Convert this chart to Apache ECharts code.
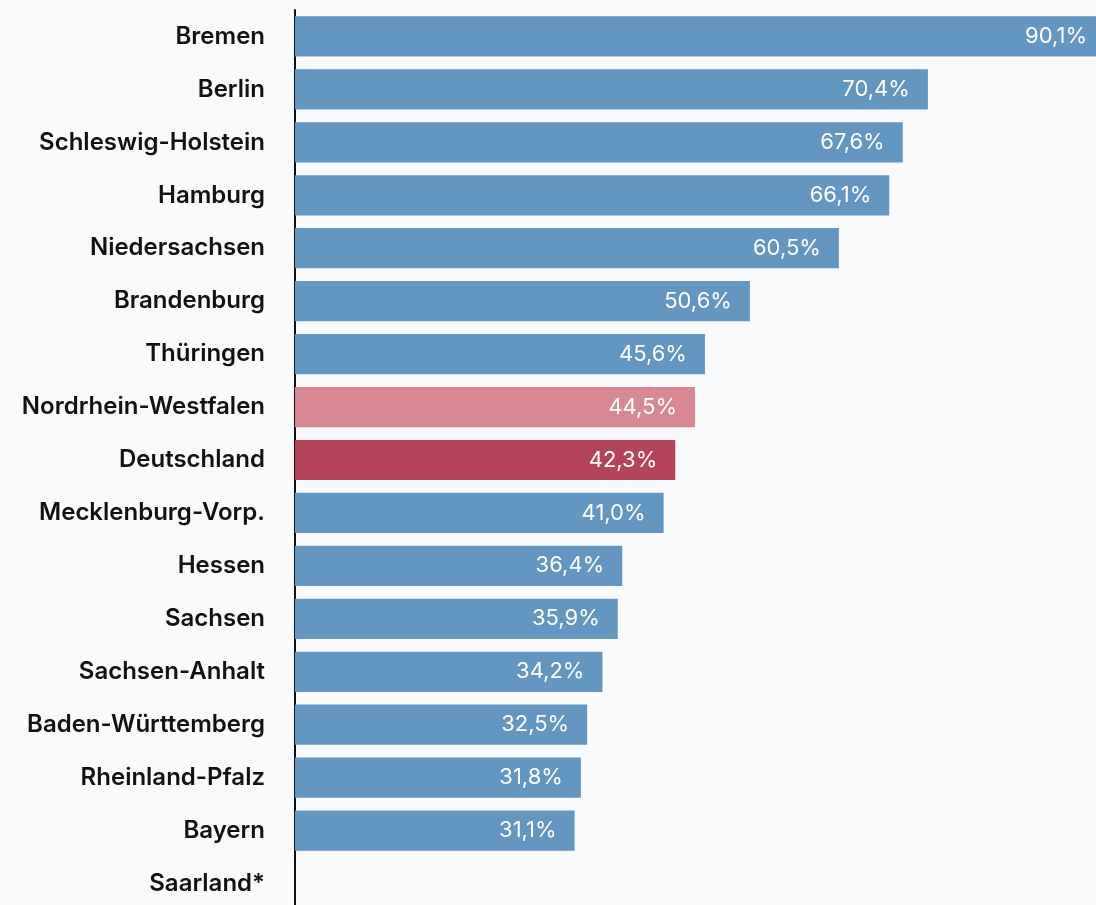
<!DOCTYPE html>
<html>
<head>
<meta charset="utf-8">
<script src="https://cdn.jsdelivr.net/npm/echarts@6/dist/echarts.min.js"></script>
<style>
html,body{margin:0;padding:0;background:#f9fafc;overflow:hidden;}
#chart{width:1110px;height:912px;}
</style>
</head>
<body>
<div id="chart"></div>
<script>
const categories = ["Bremen","Berlin","Schleswig-Holstein","Hamburg","Niedersachsen","Brandenburg","Thüringen","Nordrhein-Westfalen","Deutschland","Mecklenburg-Vorp.","Hessen","Sachsen","Sachsen-Anhalt","Baden-Württemberg","Rheinland-Pfalz","Bayern","Saarland*"];
const values = [90.1,70.4,67.6,66.1,60.5,50.6,45.6,44.5,42.3,41.0,36.4,35.9,34.2,32.5,31.8,31.1,null];
const highlight = {"Nordrhein-Westfalen":"#d78892","Deutschland":"#b44459"};
const baseColor = "#6396c1";

const chart = echarts.init(document.getElementById('chart'));
chart.setOption({
  backgroundColor: '#f9fafc',
  animation: false,
  grid: {left: 295, width: 810, top: 10, height: 900, containLabel: false},
  xAxis: {type: 'value', min: 0, max: 90.1, show: false},
  yAxis: {
    type: 'category', data: categories, inverse: true,
    axisLine: {show: true, lineStyle: {color: '#111', width: 2}},
    axisTick: {show: false},
    axisLabel: {margin: 30, color: '#111', fontSize: 24, fontWeight: 600, fontFamily: 'Inter'}
  },
  series: [{
    type: 'bar',
    barCategoryGap: '24%',
    data: values.map((v, i) => ({
      value: v,
      itemStyle: {color: highlight[categories[i]] || baseColor}
    })),
    label: {
      show: true, position: 'insideRight', distance: 18,
      color: '#fff', fontSize: 22, fontFamily: 'Inter',
      formatter: p => p.value == null ? '' : p.value.toFixed(1).replace('.', ',') + '%'
    }
  }]
});
</script>
</body>
</html>
